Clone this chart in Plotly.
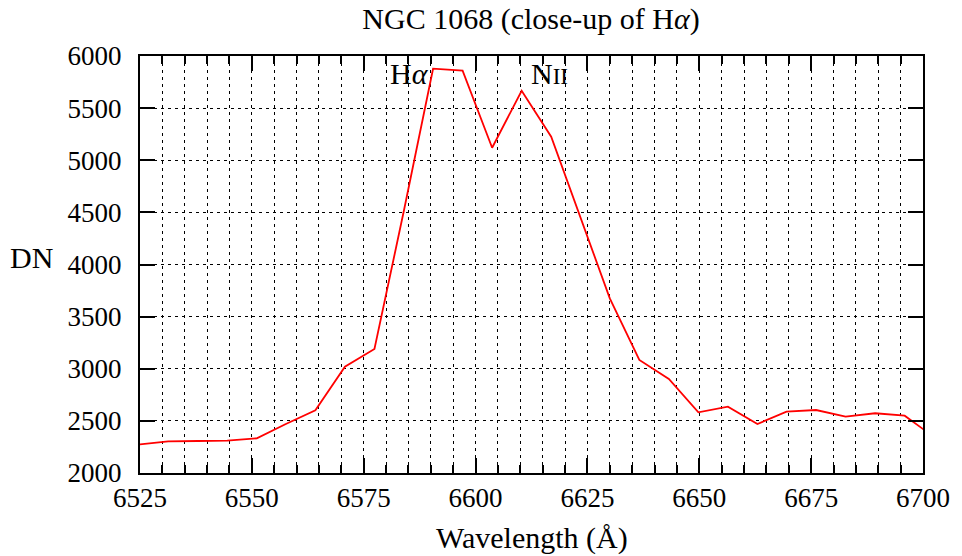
import plotly.graph_objects as go

wavelength = [6524.7, 6531.3, 6537.9, 6544.5, 6551.1, 6557.6, 6564.2, 6570.8, 6577.4,
              6584.0, 6590.5, 6597.1, 6603.7, 6610.3, 6616.9, 6623.5, 6630.0, 6636.6,
              6643.2, 6649.8, 6656.4, 6663.0, 6669.5, 6676.1, 6682.7, 6689.3, 6695.9, 6702.5]
dn = [2273, 2304, 2307, 2310, 2333, 2470, 2601, 3020, 3189,
      4520, 5878, 5860, 5120, 5667, 5226, 4450, 3675, 3084,
      2902, 2582, 2636, 2470, 2588, 2604, 2540, 2573, 2550, 2344]

x_ticks = [6525, 6550, 6575, 6600, 6625, 6650, 6675, 6700]
y_ticks = [2000, 2500, 3000, 3500, 4000, 4500, 5000, 5500, 6000]

FONT = "'Liberation Serif', 'DejaVu Serif', serif"
FS_TICK = 27
FS_LABEL = 30

fig = go.Figure()
fig.add_trace(go.Scatter(x=wavelength, y=dn, mode="lines",
                         line=dict(color="#ff0000", width=1.8), showlegend=False))

fig.update_layout(
    width=962, height=556,
    margin=dict(l=140, r=35, t=56, b=83),
    paper_bgcolor="white", plot_bgcolor="white",
    font=dict(family=FONT, size=FS_TICK, color="black"),
    title=dict(text="NGC 1068 (close-up of H<i>α</i>)", x=0.552, xanchor="center",
               y=0.967, yanchor="middle", font=dict(family=FONT, size=FS_LABEL)),
)

fig.update_xaxes(
    range=[6525, 6700], tickvals=x_ticks, ticktext=[str(v) for v in x_ticks],
    ticks="inside", ticklen=15, tickwidth=2, tickcolor="black",
    showline=True, linewidth=2, linecolor="black", mirror="allticks",
    showgrid=True, gridcolor="black", gridwidth=1, griddash="3px,4px",
    minor=dict(dtick=5, tick0=6525, ticks="inside", ticklen=8, tickwidth=2, tickcolor="black",
               showgrid=True, gridcolor="black", gridwidth=1, griddash="3px,4px"),
    zeroline=False, ticklabelstandoff=0,
    tickfont=dict(family=FONT, size=FS_TICK),
)
fig.update_yaxes(
    range=[2000, 6000], tickvals=y_ticks, ticktext=[str(v) for v in y_ticks],
    ticks="inside", ticklen=15, tickwidth=2, tickcolor="black",
    showline=True, linewidth=2, linecolor="black", mirror="allticks",
    showgrid=True, gridcolor="black", gridwidth=1, griddash="3px,4px",
    zeroline=False, ticklabelstandoff=11,
    tickfont=dict(family=FONT, size=FS_TICK),
)

fig.add_annotation(text="Wavelength (Å)", xref="paper", yref="paper", x=0.500, y=-0.156,
                   xanchor="center", yanchor="middle", showarrow=False,
                   font=dict(family=FONT, size=FS_LABEL))
fig.add_annotation(text="DN", xref="paper", yref="paper", x=-0.108, y=0.516,
                   xanchor="right", yanchor="middle", showarrow=False,
                   font=dict(family=FONT, size=FS_LABEL))
fig.add_annotation(text="H<i>α</i>", xref="x", yref="y", x=6590.0, y=5830,
                   xanchor="right", yanchor="middle", showarrow=False,
                   font=dict(family=FONT, size=FS_LABEL))
fig.add_annotation(text="N<span style='font-size:23px'>II</span>", xref="x", yref="y",
                   x=6611.9, y=5830, xanchor="left", yanchor="middle", showarrow=False,
                   font=dict(family=FONT, size=FS_LABEL))

fig.write_html("out.html")
